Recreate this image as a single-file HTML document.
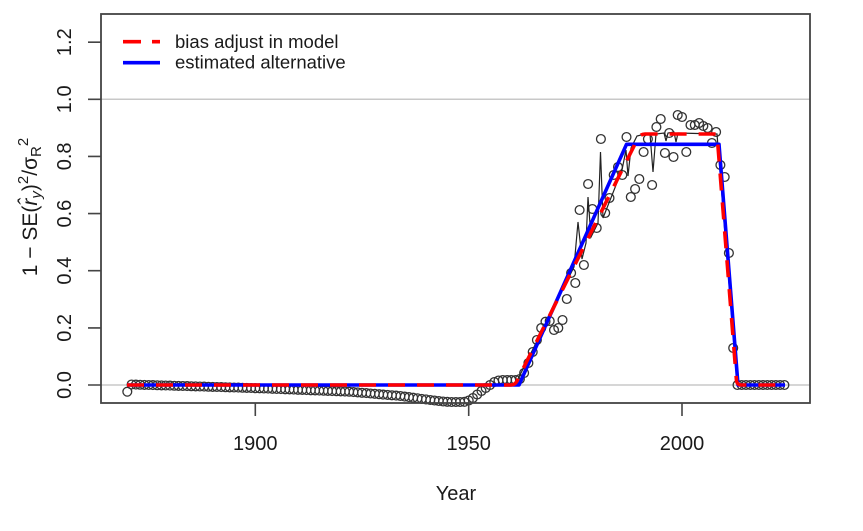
<!DOCTYPE html>
<html>
<head>
<meta charset="utf-8">
<style>
html,body{margin:0;padding:0;background:#fff;}
svg{display:block;}
text{font-family:"Liberation Sans",Arial,sans-serif;fill:#1a1a1a;}
</style>
</head>
<body>
<svg width="863" height="531" viewBox="0 0 863 531" xmlns="http://www.w3.org/2000/svg">
<defs>
<marker id="pt" markerUnits="userSpaceOnUse" markerWidth="12" markerHeight="12" refX="6" refY="6" viewBox="0 0 12 12" overflow="visible">
<circle cx="6" cy="6" r="4.4" fill="none" stroke="#333" stroke-width="1.3"/>
</marker>
</defs>
<rect x="0" y="0" width="863" height="531" fill="#fff"/>
<line x1="101" y1="99.3" x2="810" y2="99.3" stroke="#c8c8c8" stroke-width="1.5"/>
<line x1="101" y1="385" x2="810" y2="385" stroke="#c8c8c8" stroke-width="1.5"/>

<polyline fill="none" stroke="none" marker-start="url(#pt)" marker-mid="url(#pt)" marker-end="url(#pt)" points="
127.3,391.7 131.6,384.5 135.9,384.6 140.1,384.75 144.4,384.9 148.7,385 152.9,385.1 157.2,385.25 161.5,385.4 165.7,385.5
170,385.6 174.3,385.75 178.5,385.9 182.8,386 187.1,386.1 191.3,386.25 195.6,386.4 199.9,386.5 204.1,386.6 208.4,386.75
212.7,386.9 216.9,387 221.2,387.1 225.5,387.25 229.7,387.4 234,387.5 238.3,387.6 242.5,387.75 246.8,387.9 251.1,388
255.3,388.2 259.6,388.3 263.9,388.5 268.1,388.6 272.4,388.8 276.7,388.95 280.9,389.1 285.2,389.3 289.5,389.4 293.7,389.6
298,389.8 302.3,389.9 306.5,390.1 310.8,390.3 315.1,390.4 319.3,390.6 323.6,390.7 327.9,390.9 332.1,391.1 336.4,391.2
340.7,391.4 344.9,391.55 349.2,391.7 353.5,392.1 357.7,392.4 362,392.8 366.3,393.1 370.5,393.5 374.8,393.8 379.1,394.2
383.3,394.6 387.6,394.9 391.9,395.3 396.1,395.6 400.4,396 404.7,396.6 408.9,397.1 413.2,397.7 417.5,398.3 421.7,398.9
426,399.4 430.3,400 434.5,400.5 438.8,401 443.1,401.5 447.3,401.8 451.6,402 455.9,402 460.1,402 464.4,401.8
468.7,400.5 472.9,398 477.2,394.5 481.5,391 485.7,388 490,385 494.3,382 498.5,380.5 502.8,380 507.1,380
511.3,380 515.6,380 519.9,379 524.1,373 528.4,363 532.7,352 536.9,340 541.2,328 545.5,321.7 549.7,321
554,330 558.3,328 562.5,320 566.8,299 571.1,273 575.3,283 579.6,210 583.9,265 588.1,184 592.4,209
596.7,228 600.9,139 605.2,213 609.5,198 613.7,175 618,167 622.3,175 626.5,137 630.8,197 635.1,189
639.3,179 643.6,152 647.9,139 652.1,185 656.4,127 660.7,119 664.9,153 669.2,133 673.5,157 677.7,115
682,117 686.3,152 690.5,125 694.8,125 699.1,123 703.3,126 707.6,128 711.9,143 716.1,132 720.4,165
724.7,177 728.9,253 733.2,348 737.5,385 741.7,385 746,385 750.3,385 754.5,385 758.8,385 763.1,385
767.3,385 771.6,385 775.9,385 780.1,385 784.4,385"/>

<path d="M517,381 L574,267 L578,222 L582,259 L586,243 L588,197 L591,237 L598,223 L600.5,152 L603,218 L622,170 L626,150 L628,176 L631,148 L637,136 L645,134 L650,134 L653,172 L656,134 L664,133 L666,141 L668,133 L674,132 L676,142 L678,133 L717,134 L737,383" fill="none" stroke="#222" stroke-width="1.2"/>
<path d="M127,385 L519,385 L626.5,144.3 L719,144.3 L738,385 L785,385" fill="none" stroke="#0000ff" stroke-width="3.6" stroke-linejoin="round"/>
<path d="M127,385 L511,385 Q515,385 517,381 L634,146 Q638,134 645,134 L717,134 L736.5,381 Q737.5,385 741,385 L785,385" fill="none" stroke="#ff0000" stroke-width="3.6" stroke-dasharray="17 12"/>

<rect x="101" y="14" width="709" height="389" fill="none" stroke="#444" stroke-width="1.8"/>
<path d="M88,385H101M88,327.9H101M88,270.7H101M88,213.6H101M88,156.4H101M88,99.3H101M88,42.2H101M255.3,403V416M468.7,403V416M682,403V416" stroke="#444" stroke-width="1.6" fill="none"/>

<g font-size="20" text-anchor="middle">
<text transform="translate(71,385) rotate(-90)">0.0</text>
<text transform="translate(71,327.9) rotate(-90)">0.2</text>
<text transform="translate(71,270.7) rotate(-90)">0.4</text>
<text transform="translate(71,213.6) rotate(-90)">0.6</text>
<text transform="translate(71,156.4) rotate(-90)">0.8</text>
<text transform="translate(71,99.3) rotate(-90)">1.0</text>
<text transform="translate(71,42.2) rotate(-90)">1.2</text>
<text x="255.3" y="450">1900</text>
<text x="468.7" y="450">1950</text>
<text x="682" y="450">2000</text>
<text x="456" y="500">Year</text>
</g>

<text transform="translate(37,207) rotate(-90)" font-size="21" text-anchor="middle">1 − SE(<tspan font-style="italic">r̂</tspan><tspan font-size="15" font-style="italic" dy="4">y</tspan><tspan dy="-4">)</tspan><tspan font-size="15" dy="-9">2</tspan><tspan dy="9">/σ</tspan><tspan font-size="15" dy="4">R</tspan><tspan font-size="15" dy="-13">2</tspan></text>

<line x1="123" y1="41.7" x2="160" y2="41.7" stroke="#ff0000" stroke-width="3.6" stroke-dasharray="18 11"/>
<line x1="123" y1="62.7" x2="160" y2="62.7" stroke="#0000ff" stroke-width="3.6"/>
<text x="175" y="48" font-size="18.5">bias adjust in model</text>
<text x="175" y="68.5" font-size="18.5">estimated alternative</text>
</svg>
</body>
</html>
